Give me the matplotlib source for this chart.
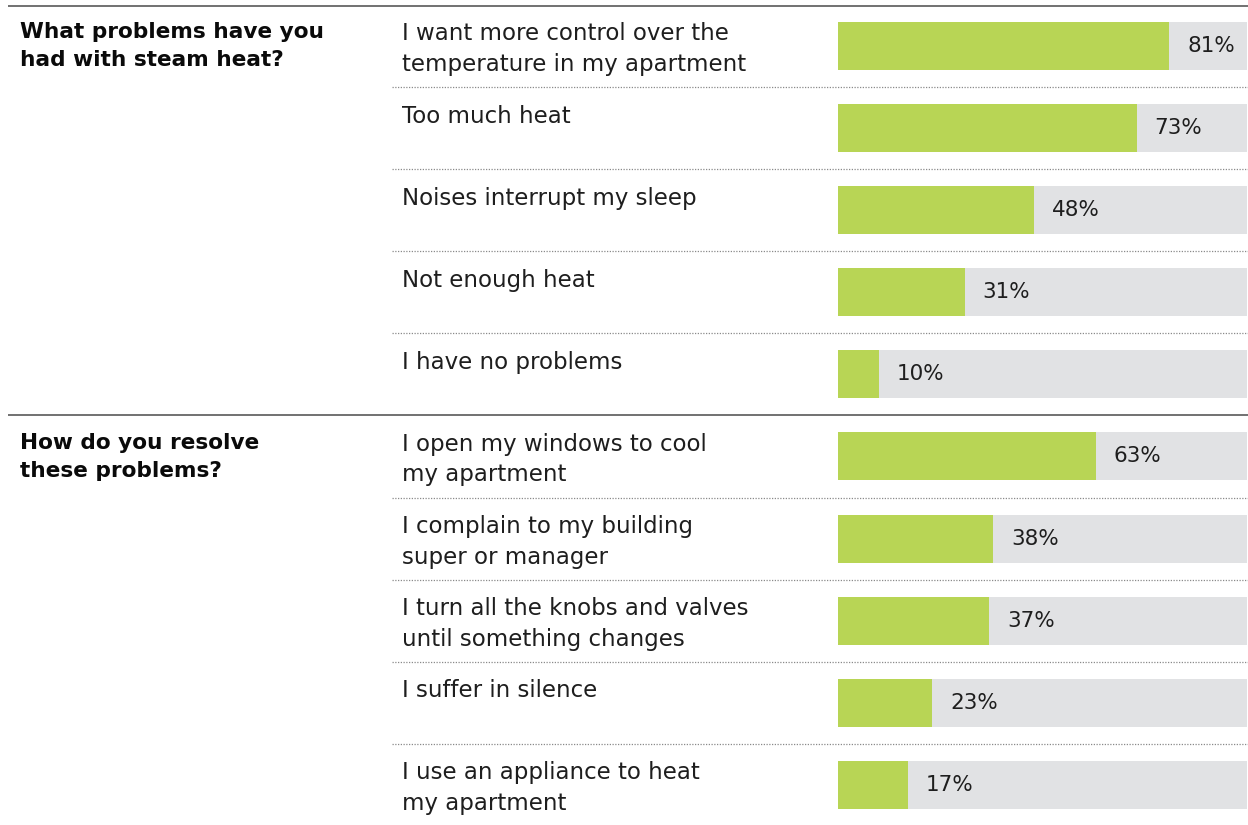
import matplotlib
matplotlib.use("Agg")
import matplotlib.pyplot as plt

# ---- data ----
questions = ["What problems have you\nhad with steam heat?",
             "How do you resolve\nthese problems?"]
labels_q1 = ["I want more control over the\ntemperature in my apartment",
             "Too much heat",
             "Noises interrupt my sleep",
             "Not enough heat",
             "I have no problems"]
values_q1 = [81, 73, 48, 31, 10]
labels_q2 = ["I open my windows to cool\nmy apartment",
             "I complain to my building\nsuper or manager",
             "I turn all the knobs and valves\nuntil something changes",
             "I suffer in silence",
             "I use an appliance to heat\nmy apartment"]
values_q2 = [63, 38, 37, 23, 17]

labels = labels_q1 + labels_q2
values = values_q1 + values_q2
section_sizes = [len(values_q1), len(values_q2)]

GREEN = "#b8d555"
GRAY = "#e1e2e4"
TEXT = "#1e1e1e"
FONT = "DejaVu Sans"

W, H = 1248, 825
fig = plt.figure(figsize=(W / 100, H / 100), dpi=100)

# row geometry in pixels (for axes placement)
row0_px = 46.0
row_px = 82.1
ylim = ((H - row0_px) / row_px, (0 - row0_px) / row_px)
bar_h = 48 / row_px

# background axes: x in pixels, y in row units
bg = fig.add_axes([0, 0, 1, 1])
bg.set_xlim(0, W)
bg.set_ylim(*ylim)
bg.axis("off")

# bar axes
bx0, bx1 = 838, 1247
ax = fig.add_axes([bx0 / W, 0, (bx1 - bx0) / W, 1])
ax.set_xlim(0, 100)
ax.set_ylim(*ylim)
ax.axis("off")

rows = list(range(len(values)))
ax.barh(rows, [100] * len(rows), height=bar_h, color=GRAY, linewidth=0)
ax.barh(rows, values, height=bar_h, color=GREEN, linewidth=0)
for r, v in zip(rows, values):
    ax.annotate(f"{v}%", xy=(v, r), xytext=(18, 0), textcoords="offset pixels",
                ha="left", va="center", fontsize=15.5, color=TEXT, family=FONT)

# category labels
for r, lab in zip(rows, labels):
    bg.text(402, r - bar_h / 2 + 0.005, lab, ha="left", va="top", fontsize=16.5,
            color=TEXT, family=FONT, linespacing=1.42)

# section headings and separators
start = 0
for q, n in zip(questions, section_sizes):
    top = start - 0.5
    y_line = top if start > 0 else (6 - row0_px) / row_px
    bg.plot([8, W], [y_line, y_line], color="#666666", lw=1.3, solid_capstyle="butt")
    bg.text(20, start - bar_h / 2 + 0.005, q, ha="left", va="top", fontsize=15.6,
            fontweight="bold", color="#0a0a0a", family=FONT, linespacing=1.48)
    for i in range(start, start + n - 1):
        bg.plot([392, W], [i + 0.5, i + 0.5], color="#8a8a8a", lw=0.9,
                linestyle=(0, (1, 1.2)))
    start += n

fig.savefig("out.png", dpi=100)
